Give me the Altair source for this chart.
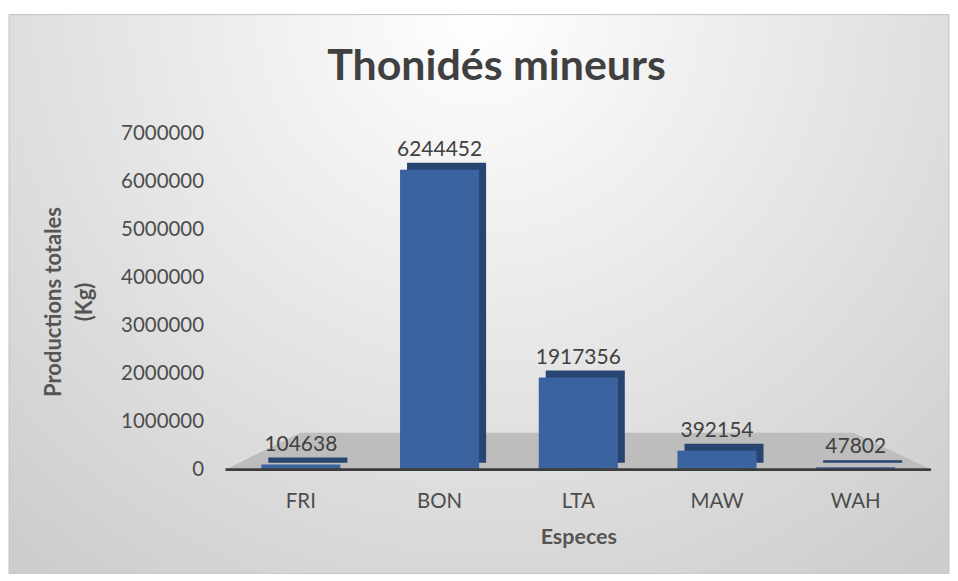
import altair as alt
import pandas as pd

# ---- data ----
species = ["FRI", "BON", "LTA", "MAW", "WAH"]
production = [104638, 6244452, 1917356, 392154, 47802]
y_ticks = [0, 1000000, 2000000, 3000000, 4000000, 5000000, 6000000, 7000000]

# decorative 3D-like floor (x as fraction of plot width, y in data units)
floor_x = [0.0, 0.106, 0.89, 1.0]
floor_y = [0, 770000, 770000, 0]

W, H = 707, 337
FONT = "Lato"

df = pd.DataFrame({"species": species, "production": production})
floor_df = pd.DataFrame({"fx": floor_x, "production": floor_y})

yscale = alt.Scale(domain=[0, 7000000], nice=False)
yaxis = alt.Axis(
    values=y_ticks, format="d", grid=False, ticks=False, domain=False, zindex=2,
    labelFont=FONT, labelFontSize=20.5, labelColor="#4d4d4d", labelPadding=22,
    title=["Productions totales", "(Kg)"], titleFont=FONT, titleFontSize=22,
    titleFontWeight="bold", titleColor="#555555", titlePadding=24,
    titleLineHeight=31,
)
xscale = alt.Scale(paddingInner=0.43, paddingOuter=0.258)
xaxis = alt.Axis(
    labelAngle=0, domain=False, ticks=False, zindex=2, labelFont=FONT,
    labelFontSize=20.5, labelColor="#4d4d4d", labelPadding=22, title="Especes",
    titleFont=FONT, titleFontSize=21.5, titleFontWeight="bold",
    titleColor="#555555", titlePadding=15,
)

gradient = {
    "gradient": "radial",
    "x1": 0.5, "y1": 0.2, "r1": 0,
    "x2": 0.5, "y2": 0.2, "r2": 0.75,
    "stops": [
        {"offset": 0, "color": "#ffffff"},
        {"offset": 1, "color": "#cdcdcd"},
    ],
}

bg = alt.Chart(pd.DataFrame({"k": [0]})).mark_rect(
    fill=gradient, stroke="#c4c4c4", strokeWidth=1
).encode(
    x=alt.value(-217), x2=alt.value(725), y=alt.value(-119), y2=alt.value(441)
)

floor_area = alt.Chart(floor_df).mark_area(color="#bdbdbd").encode(
    x=alt.X("fx:Q", scale=alt.Scale(domain=[0, 1], nice=False, zero=False), axis=None),
    y=alt.Y("production:Q", scale=yscale, axis=yaxis),
)

floor_rule = alt.Chart(pd.DataFrame({"k": [0]})).mark_rule(
    color="#3c3c3c", strokeWidth=3
).encode(x=alt.value(0), x2=alt.value(W), y=alt.value(H))

xenc = alt.X("species:N", sort=species, scale=xscale, axis=xaxis)
yenc = alt.Y("production:Q", scale=yscale, axis=yaxis)

bars_side = alt.Chart(df).mark_bar(color="#274570", xOffset=7, yOffset=-7).encode(
    x=xenc, y=yenc
)
bars = alt.Chart(df).mark_bar(color="#3a63a0").encode(x=xenc, y=yenc)
labels = alt.Chart(df).mark_text(
    baseline="bottom", dy=-10, font=FONT, fontSize=21, color="#404040"
).encode(x=xenc, y=yenc, text=alt.Text("production:Q", format="d"))

inner = alt.layer(bars_side, bars, labels)

chart = alt.layer(bg, floor_area, inner, floor_rule).resolve_scale(
    x="independent"
).properties(
    width=W,
    height=H,
    padding={"left": 0, "top": 5, "right": 0, "bottom": 0},
    title=alt.Title(
        "Thonidés mineurs", font=FONT, fontSize=43, fontWeight="bold",
        color="#404040", anchor="middle", frame="group", dx=-82, offset=-75,
    ),
).configure_view(stroke=None)

chart.save("out.html", embed_options={"renderer": "svg", "actions": False})
